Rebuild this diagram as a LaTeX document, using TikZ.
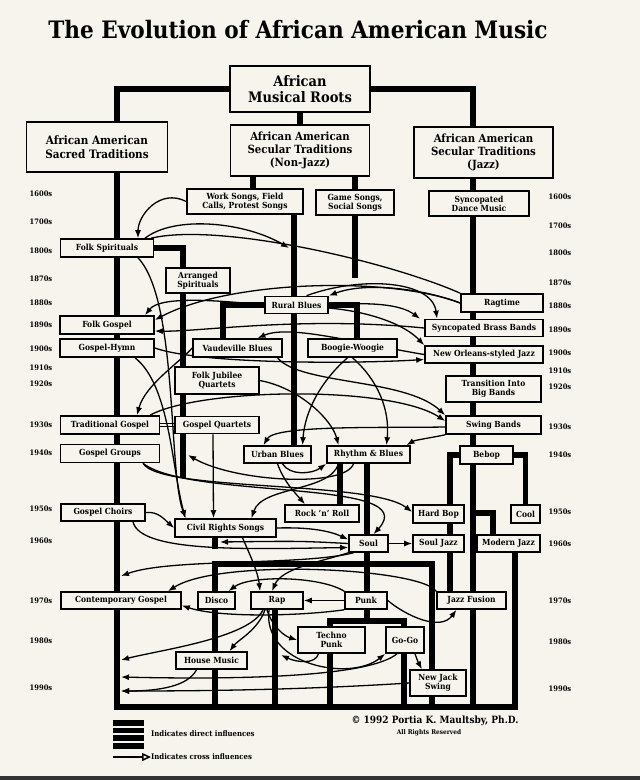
\documentclass[tikz,border=0pt]{standalone}
\usepackage{fontspec}
\setmainfont{DejaVu Serif Condensed}
\usetikzlibrary{arrows.meta}
\definecolor{paper}{RGB}{246,244,237}
\pgfdeclarelayer{paperbg}
\pgfdeclarelayer{links}
\pgfsetlayers{paperbg,links,main}

\begin{document}
\begin{tikzpicture}[x=1pt,y=-1pt,
  box/.style 2 args={draw,line width=1.6pt,fill=paper,inner sep=1pt,align=center,
    minimum width=#1pt,minimum height=#2pt,font=\fontsize{8.4}{9.2}\selectfont\bfseries},
  head/.style 2 args={box={#1}{#2},font=\fontsize{11.3}{13}\selectfont\bfseries},
  year/.style={font=\fontsize{7.5}{8}\selectfont\bfseries,inner sep=0pt},
  direct/.style={line width=5.5pt,line join=miter},
  cross/.style={line width=1.3pt,-{Latex[length=8pt,width=6pt]}},
  plain/.style={line width=1.3pt}]
\useasboundingbox (0,0) rectangle (640,780);
\begin{pgfonlayer}{paperbg}
\fill[paper] (0,0) rectangle (640,780);
\fill[black!80] (0,776) rectangle (640,780);
\end{pgfonlayer}

\node[font=\fontsize{24}{27}\selectfont\bfseries] (title) at (298,30) {The Evolution of African American Music};

\node[head={140}{46},font=\fontsize{14.5}{16.5}\selectfont\bfseries] (roots) at (300,89) {African\\Musical Roots};
\node[head={141}{50},font=\fontsize{11.6}{13.5}\selectfont\bfseries] (sacred) at (97,147) {African American\\Sacred Traditions};
\node[head={139}{51}] (secular) at (300,150.5) {African American\\Secular Traditions\\(Non-Jazz)};
\node[head={139}{51}] (jazz) at (483.5,152.5) {African American\\Secular Traditions\\(Jazz)};

\node[box={116}{25}] (work) at (245,201.5) {Work Songs, Field\\Calls, Protest Songs};
\node[box={78}{25}] (game) at (355,202.5) {Game Songs,\\Social Songs};
\node[box={100}{25}] (syncdance) at (479,203.5) {Syncopated\\Dance Music};
\node[box={93}{18}] (folkspir) at (107,248) {Folk Spirituals};
\node[box={64}{25}] (arrspir) at (198,280.5) {Arranged\\Spirituals};
\node[box={82}{18}] (ragtime) at (502,303) {Ragtime};
\node[box={63}{17}] (rural) at (296.5,305) {Rural Blues};
\node[box={94}{18}] (folkgospel) at (107,325) {Folk Gospel};
\node[box={118}{17}] (brass) at (484,328) {Syncopated Brass Bands};
\node[box={94}{18}] (hymn) at (107,348) {Gospel-Hymn};
\node[box={89}{18}] (vaudeville) at (237.5,348) {Vaudeville Blues};
\node[box={89}{18}] (boogie) at (352.5,348) {Boogie-Woogie};
\node[box={118}{17}] (neworleans) at (484,354.5) {New Orleans-styled Jazz};
\node[box={84}{27}] (jubilee) at (217,380.5) {Folk Jubilee\\Quartets};
\node[box={95}{26}] (bigbands) at (493.5,389) {Transition Into\\Big Bands};
\node[box={99}{18}] (tradgospel) at (110,425) {Traditional Gospel};
\node[box={84}{17}] (gquartets) at (217,425) {Gospel Quartets};
\node[box={95}{18}] (swing) at (493.5,425) {Swing Bands};
\node[box={99}{18}] (ggroups) at (110,453.5) {Gospel Groups};
\node[box={67}{17}] (urban) at (277.5,454.5) {Urban Blues};
\node[box={83}{17}] (rnb) at (368.5,454.5) {Rhythm \& Blues};
\node[box={53}{18}] (bebop) at (486.5,455) {Bebop};
\node[box={84}{17}] (choirs) at (103,512.5) {Gospel Choirs};
\node[box={74}{17}] (rocknroll) at (322,513.5) {Rock 'n' Roll};
\node[box={51}{18}] (hardbop) at (438.5,514) {Hard Bop};
\node[box={29}{18}] (cool) at (525.5,514) {Cool};
\node[box={101}{18}] (civil) at (225.5,528) {Civil Rights Songs};
\node[box={39}{17}] (soul) at (368.5,543.5) {Soul};
\node[box={51}{17}] (souljazz) at (438.5,543.5) {Soul Jazz};
\node[box={63}{17}] (modjazz) at (508.5,543.5) {Modern Jazz};
\node[box={120}{17}] (contgospel) at (121,600.5) {Contemporary Gospel};
\node[box={37}{17}] (disco) at (216.5,600.5) {Disco};
\node[box={52}{17}] (rap) at (277,600.5) {Rap};
\node[box={42}{17}] (punk) at (366,600.5) {Punk};
\node[box={69}{17}] (fusion) at (471.5,600.5) {Jazz Fusion};
\node[box={67}{26}] (techno) at (331.5,640) {Techno\\Punk};
\node[box={38}{26}] (gogo) at (405,640) {Go-Go};
\node[box={71}{17}] (house) at (211.5,660.5) {House Music};
\node[box={56}{26}] (newjack) at (438,683) {New Jack\\Swing};

\foreach \yr/\ly/\ry in {1600/194/197,1700/222/226,1800/251/253,1870/279/283,
  1880/303/306,1890/325/330,1900/349/353,1910/368/371,1920/384/387,1930/425/427,
  1940/453/455,1950/509/512,1960/541/544,1970/601/601,1980/641/642,1990/688/689}
{
  \node[year] (l\yr) at (41,\ly) {\yr s};
  \node[year] (r\yr) at (560,\ry) {\yr s};
}

\begin{pgfonlayer}{links}
\coordinate (bl) at (117,707);
\coordinate (br) at (518,707);
\coordinate (workx) at (253,0);
\coordinate (gamex) at (355,0);
\coordinate (gameend) at (355,278);
\coordinate (ruralx) at (294,0);
\coordinate (jazzx) at (473,0);
\coordinate (spirend) at (183,478);
\coordinate (vaudx) at (223,0);
\coordinate (boogx) at (357,0);
\coordinate (rockx) at (340,0);
\coordinate (soulx) at (367,0);
\coordinate (kl) at (215,564);
\coordinate (kr) at (432,564);
\coordinate (cstub) at (215,549);
\coordinate (rapx) at (275,0);
\coordinate (pl) at (330,621);
\coordinate (pr) at (404,621);
\coordinate (hbx) at (450,0);
\coordinate (mjb) at (473,513);
\coordinate (mjx) at (493,0);
\coordinate (mjd) at (515,0);

\draw[direct] (roots.west) -| (sacred.north -| bl);
\draw[direct] (roots.east) -| (jazz.north -| jazzx);
\draw[direct] (roots.south) -- (secular.north);
\draw[direct] (secular.south -| workx) -- (work.north -| workx);
\draw[direct] (secular.south -| gamex) -- (game.north -| gamex);
\draw[direct] (game.south -| gamex) -- (gameend);
\draw[direct] (work.south -| ruralx) -- (urban.north -| ruralx);
\draw[direct] (jazz.south -| jazzx) -- (bebop.north -| jazzx);
\draw[direct] (sacred.south -| bl) -- (bl) -- (br);
\draw[direct] (folkspir.east) -| (spirend);
\draw[direct] (vaudeville.north -| vaudx) |- (rural.center) -| (boogie.north -| boogx);
\draw[direct] (rnb.south -| rockx) -- (rocknroll.north -| rockx);
\draw[direct] (rnb.south -| soulx) -- (pl -| soulx);
\draw[direct] (bl -| kl) -- (kl) -- (kr) -- (kr |- bl);
\draw[direct] (civil.south -| cstub) -- (cstub);
\draw[direct] (rap.south -| rapx) -- (bl -| rapx);
\draw[direct] (bl -| pl) -- (pl) -- (pr) -- (pr |- bl);
\draw[direct] (fusion.north -| hbx) |- (bebop.west);
\draw[direct] (cool.north) |- (bebop.east);
\draw[direct] (bebop.south -| jazzx) -- (bl -| jazzx);
\draw[direct] (mjb) -| (modjazz.north -| mjx);
\draw[direct] (modjazz.south -| mjd) -- (bl -| mjd);
\draw[line width=1.4pt,double=paper,double distance=1.4pt] (tradgospel.east) -- (gquartets.west);

\coordinate (ruralarr) at (289,248);
\coordinate (groupsarr) at (188,455);
\coordinate (stubarr) at (220,542);
\coordinate (sacredarr1) at (121,576);
\coordinate (sacredarr2) at (121,660);
\coordinate (sacredarr3) at (121,677);
\coordinate (sacredarr4) at (121,691);
\coordinate (raparr) at (281,655);

\draw[cross] (work.west) .. controls (160,188) and (138,215) .. ([xshift=31pt]folkspir.north);
\draw[cross] ([xshift=38pt]folkspir.north) .. controls (175,215) and (245,222) .. (ruralarr);
\draw[plain] ([xshift=44pt]folkspir.north) .. controls (220,222) and (390,262) .. (ragtime.north west);
\draw[cross] (ragtime.west) .. controls (420,288) and (365,282) .. (rural.north east);
\draw[cross] (ragtime.west) .. controls (390,276) and (230,280) .. ([yshift=5pt]folkgospel.east);
\draw[cross] ([xshift=10pt]rural.north) .. controls (360,276) and (432,280) .. ([xshift=-47pt]brass.north);
\draw[cross] (rural.east) .. controls (370,302) and (400,304) .. ([xshift=-64pt]brass.north);
\draw[cross] ([yshift=-3pt]rural.east) .. controls (372,312) and (405,325) .. (neworleans.north west);
\draw[cross] (rural.west) .. controls (215,300) and (160,296) .. ([xshift=38pt]folkgospel.north);
\draw[cross] (brass.west) .. controls (300,316) and (200,332) .. ([yshift=-6pt]folkgospel.east);
\draw[cross] (neworleans.west) .. controls (360,344) and (290,324) .. ([xshift=20pt]vaudeville.north);
\draw[cross] (hymn.east) .. controls (200,364) and (350,364) .. ([yshift=-5pt]neworleans.west);
\draw[cross] ([xshift=40pt]vaudeville.south) .. controls (300,385) and (405,378) .. (swing.north west);
\draw[cross] (vaudeville.west) .. controls (180,362) and (145,385) .. ([xshift=27pt]tradgospel.north);
\draw[cross] ([xshift=40pt]tradgospel.north) .. controls (200,388) and (390,385) .. ([yshift=4pt]swing.west);
\draw[cross] ([xshift=-5pt]boogie.south) .. controls (322,380) and (305,410) .. ([xshift=25pt]urban.north);
\draw[cross] (boogie.south) .. controls (378,380) and (390,410) .. ([xshift=18pt]rnb.north);
\draw[cross] ([yshift=-2pt]swing.west) .. controls (380,428) and (275,425) .. ([xshift=-14pt]urban.north);
\draw[cross] (swing.south west) .. controls (430,438) and (415,440) .. ([xshift=38pt]rnb.north);
\draw[cross] (jubilee.east) .. controls (300,388) and (332,420) .. ([xshift=-30pt]rnb.north);
\draw[cross] ([xshift=-4pt]gquartets.south) -- ([xshift=-12pt]civil.north);
\draw[cross] ([xshift=31pt]folkspir.south) .. controls (178,300) and (168,470) .. ([xshift=-40pt]civil.north);
\draw[cross] ([xshift=28pt]hymn.south) .. controls (170,385) and (172,470) .. ([xshift=-40pt]civil.north);
\draw[cross] ([xshift=-15pt]rnb.south) .. controls (345,488) and (235,482) .. (groupsarr);
\draw[cross] ([xshift=5pt]urban.south) .. controls (290,476) and (312,474) .. (rnb.south west);
\draw[cross] (urban.south) .. controls (284,482) and (296,494) .. ([xshift=-17pt]rocknroll.north);
\draw[cross] ([xshift=-30pt]rnb.south) .. controls (330,492) and (262,486) .. ([xshift=26pt]civil.north);
\draw[cross] ([xshift=33pt]ggroups.south) .. controls (160,492) and (370,480) .. ([yshift=2pt]hardbop.west);
\draw[cross] ([xshift=33pt]ggroups.south) .. controls (190,500) and (425,478) .. ([xshift=5pt]soul.north);
\draw[cross] (choirs.east) .. controls (158,511) and (165,520) .. (civil.west);
\draw[cross] ([xshift=30pt]choirs.south) .. controls (140,553) and (250,549) .. ([yshift=-4pt]soul.west);
\draw[cross] (civil.east) .. controls (310,527) and (330,531) .. ([yshift=4pt]soul.west);
\draw[cross] (soul.west) .. controls (300,541) .. (stubarr);
\draw[cross] ([xshift=-15pt]soul.south) .. controls (300,566) and (170,558) .. (sacredarr1);
\draw[cross] (soul.east) -- (souljazz.west);
\draw[cross] ([xshift=17pt]civil.south) .. controls (250,555) and (258,572) .. ([xshift=-17pt]rap.north);
\draw[cross] (soul.south west) .. controls (320,562) and (282,568) .. ([xshift=-5pt]rap.north);
\draw[cross] (fusion.north west) .. controls (420,568) and (220,558) .. ([xshift=47pt]contgospel.north);
\draw[cross] (punk.north west) .. controls (320,576) and (250,575) .. ([xshift=12pt]disco.north);
\draw[cross] (punk.west) -- (rap.east);
\draw[cross] (punk.south west) .. controls (300,616) and (220,618) .. ([yshift=-5pt]contgospel.east);
\draw[cross] (punk.east) .. controls (405,615) and (440,632) .. ([xshift=-15pt]fusion.south);
\draw[cross] ([xshift=-10pt]rap.south) .. controls (272,626) and (284,636) .. (techno.west);
\draw[cross] ([xshift=-12pt]rap.south) .. controls (258,630) and (238,640) .. ([xshift=18pt]house.north);
\draw[cross] ([xshift=-14pt]rap.south) .. controls (250,638) and (160,650) .. (sacredarr2);
\draw[cross] ([xshift=-8pt]rap.south) .. controls (262,665) and (350,682) .. (gogo.south west);
\draw[cross] ([xshift=-13pt]techno.south) .. controls (315,665) and (296,662) .. (raparr);
\draw[cross] ([xshift=10pt]gogo.south) .. controls (418,662) .. ([xshift=-16pt]newjack.north);
\draw[cross] ([xshift=-8pt]gogo.south) .. controls (370,676) and (250,680) .. (sacredarr3);
\draw[cross] (newjack.west) .. controls (300,690) and (200,691) .. (sacredarr4);
\draw[cross] ([xshift=-15pt]house.south) .. controls (188,686) and (160,691) .. (sacredarr4);
\end{pgfonlayer}

\foreach \k in {0,...,3}
  \fill (113,720+7.7*\k) rectangle (144,725.5+7.7*\k);
\node[anchor=west,inner sep=0pt,font=\fontsize{7.7}{8}\selectfont\bfseries] (legdirect) at (151,734) {Indicates direct influences};
\node[anchor=west,inner sep=0pt,font=\fontsize{7.7}{8}\selectfont\bfseries] (legcross) at (151,757) {Indicates cross influences};
\coordinate (legtail) at (113,757);
\draw[line width=1.5pt,-{Triangle[open,length=9pt,width=8pt]}] (legtail) -- (legcross.west);

\node[font=\fontsize{10}{11}\selectfont\bfseries] (copyr) at (435,721) {\textcopyright\ 1992 Portia K. Maultsby, Ph.D.};
\node[font=\fontsize{6.5}{7}\selectfont\bfseries] (rights) at (429,733) {All Rights Reserved};
\end{tikzpicture}
\end{document}
